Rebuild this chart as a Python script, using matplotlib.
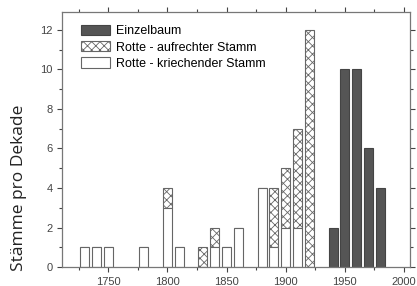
import matplotlib
matplotlib.use("Agg")
import matplotlib.pyplot as plt
from matplotlib.ticker import MultipleLocator

plt.rcParams['font.family'] = ['Liberation Sans', 'DejaVu Sans']
plt.rcParams['hatch.color'] = '#777777'
plt.rcParams['hatch.linewidth'] = 0.6

# decades (bar centres) and counts per category
dekaden = [1730, 1740, 1750, 1780, 1800, 1810, 1830, 1840, 1850, 1860,
           1880, 1890, 1900, 1910, 1920, 1940, 1950, 1960, 1970, 1980]
kriechend = [1, 1, 1, 1, 3, 1, 0, 1, 1, 2, 4, 1, 2, 2, 0, 0, 0, 0, 0, 0]
aufrecht = [0, 0, 0, 0, 1, 0, 1, 1, 0, 0, 0, 3, 3, 5, 12, 0, 0, 0, 0, 0]
einzelbaum = [0, 0, 0, 0, 0, 0, 0, 0, 0, 0, 0, 0, 0, 0, 0, 2, 10, 10, 6, 4]

fig = plt.figure(figsize=(4.17, 2.86), dpi=100)
ax = fig.add_axes([0.149, 0.066, 0.834, 0.892])

w = 7.6
edge = '#666666'
ax.bar(dekaden, einzelbaum, width=w, color='#555555', edgecolor='#444444',
       linewidth=0.8, label='Einzelbaum')
ax.bar(dekaden, aufrecht, width=w, bottom=kriechend, color='white',
       edgecolor=edge, hatch='xxxx', linewidth=0.8,
       label='Rotte - aufrechter Stamm')
ax.bar(dekaden, kriechend, width=w, color='white', edgecolor=edge,
       linewidth=0.8, label='Rotte - kriechender Stamm')

ax.set_xlim(1711, 2005)
ax.set_ylim(0, 12.9)
ax.xaxis.set_major_locator(MultipleLocator(50))
ax.xaxis.set_minor_locator(MultipleLocator(25))
ax.yaxis.set_major_locator(MultipleLocator(2))
ax.yaxis.set_minor_locator(MultipleLocator(1))
ax.tick_params(which='both', labelsize=8, colors='#444444', width=0.8)
ax.tick_params(which='major', length=3.5)
ax.tick_params(which='minor', length=2)
ax.tick_params(axis='both', which='both', top=True, right=True, direction='in')
ax.tick_params(axis='x', which='both', bottom=True, direction='out')
ax.tick_params(axis='y', which='both', left=True, direction='out')
for s in ax.spines.values():
    s.set_color('#777777')
    s.set_linewidth(0.9)

ax.set_ylabel('Stämme pro Dekade', family='Open Sans', fontsize=12.5,
              color='#222222')
ax.yaxis.set_label_coords(-0.1, 0.31)

ax.legend(loc='upper left', frameon=False, fontsize=9,
          bbox_to_anchor=(0.055, 0.95), handlelength=2.3, handleheight=0.9,
          labelspacing=0.3, handletextpad=0.5, borderaxespad=0.0,
          borderpad=0.0)

fig.savefig('out.png', dpi=100)
